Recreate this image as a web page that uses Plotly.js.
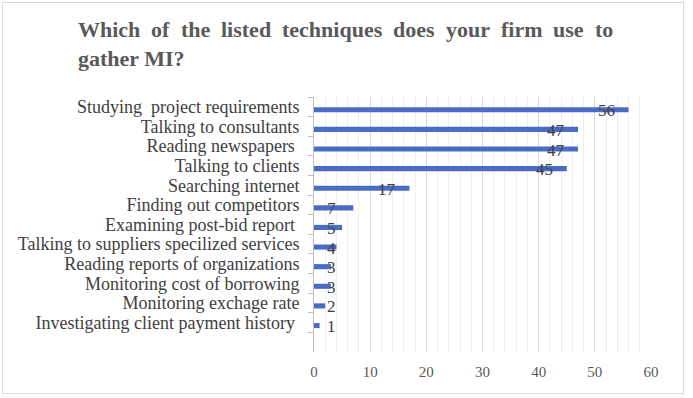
<!DOCTYPE html>
<html>
<head>
<meta charset="utf-8">
<script src="https://cdn.plot.ly/plotly-3.0.1.min.js"></script>
<style>
  html, body { margin: 0; padding: 0; background: #fff; }
  #wrap { position: relative; width: 693px; height: 398px; }
  #chart { position: absolute; left: 0; top: 0; width: 693px; height: 398px; }
  #frame { position: absolute; left: 2px; top: 2px; width: 680px; height: 390px;
           border: 1px solid #d9d9d9; pointer-events: none; }
</style>
</head>
<body>
<div id="wrap">
  <div id="chart"></div>
  <div id="frame"></div>
</div>
<script>
const categories = [
  "Studying  project requirements",
  "Talking to consultants",
  "Reading newspapers ",
  "Talking to clients",
  "Searching internet",
  "Finding out competitors",
  "Examining post-bid report ",
  "Talking to suppliers specilized services",
  "Reading reports of organizations",
  "Monitoring cost of borrowing",
  "Monitoring exchage rate",
  "Investigating client payment history "
];
const values = [56, 47, 47, 45, 17, 7, 5, 4, 3, 3, 2, 1];
const xTicks = [0, 10, 20, 30, 40, 50, 60];
const titleLines = ["Which of the listed techniques does your firm use to", "gather MI?"];

const serif = "Liberation Serif";

const trace = {
  type: "bar",
  orientation: "h",
  y: categories,
  x: values,
  width: 0.26,
  offset: 0.02,
  marker: { color: "#4a6cc4", line: { width: 0 } },
  hoverinfo: "skip"
};

const annotations = values.map((v, i) => ({
  x: Math.max(v - 4, 3.1),
  y: categories[i],
  xref: "x",
  yref: "y",
  text: String(v),
  showarrow: false,
  xanchor: "center",
  yanchor: "middle",
  yshift: -4,
  font: { family: serif, size: 17, color: "#404040" }
}));

// Title: plot area spans x pixels 314..651, y pixels 97..352
const plotL = 314, plotW = 337, plotB = 352, plotH = 255;
const titleLeft = 78, titleRight = 613, titleSize = 22;
const titleY = [29, 58];
const ctx = document.createElement("canvas").getContext("2d");
ctx.font = "bold " + titleSize + "px 'Liberation Serif'";
function addWord(word, px, py) {
  annotations.push({
    x: (px - plotL) / plotW,
    y: (plotB - py) / plotH,
    xref: "paper",
    yref: "paper",
    text: "<b>" + word + "</b>",
    showarrow: false,
    xanchor: "left",
    yanchor: "middle",
    borderpad: 0,
    font: { family: serif, size: titleSize, color: "#595959" }
  });
}
// first line justified across the title width
const words = titleLines[0].split(" ");
const widths = words.map(w => ctx.measureText(w).width);
const total = widths.reduce((a, b) => a + b, 0);
const gap = (titleRight - titleLeft - total) / (words.length - 1);
let cx = titleLeft;
words.forEach((w, i) => { addWord(w, cx - 1, titleY[0]); cx += widths[i] + gap; });
// last line left-aligned
addWord(titleLines[1], titleLeft - 1, titleY[1]);

const layout = {
  width: 693,
  height: 398,
  margin: { l: plotL, r: 693 - plotL - plotW, t: 97, b: 398 - plotB },
  paper_bgcolor: "#ffffff",
  plot_bgcolor: "#ffffff",
  showlegend: false,
  xaxis: {
    range: [0, 60],
    tickvals: xTicks,
    ticktext: xTicks.map(String),
    showgrid: true,
    gridcolor: "#d9d9d9",
    gridwidth: 1,
    minor: { dtick: 2, showgrid: true, gridcolor: "#efefef", gridwidth: 1 },
    zeroline: false,
    showline: false,
    ticks: "",
    ticklabelstandoff: 9,
    tickfont: { family: serif, size: 15, color: "#595959" },
    fixedrange: true
  },
  yaxis: {
    type: "category",
    categoryorder: "array",
    categoryarray: categories,
    tickmode: "array",
    tickvals: categories,
    ticktext: categories,
    range: [12.5, -0.5],
    showgrid: false,
    zeroline: false,
    showline: true,
    linecolor: "#bfbfbf",
    linewidth: 1,
    ticks: "outside",
    tickson: "boundaries",
    ticklen: 5,
    tickcolor: "#bfbfbf",
    ticklabelstandoff: 10,
    tickfont: { family: serif, size: 18, color: "#404040" },
    fixedrange: true
  },
  annotations: annotations
};

Plotly.newPlot("chart", [trace], layout, { displayModeBar: false, staticPlot: true });
</script>
</body>
</html>
